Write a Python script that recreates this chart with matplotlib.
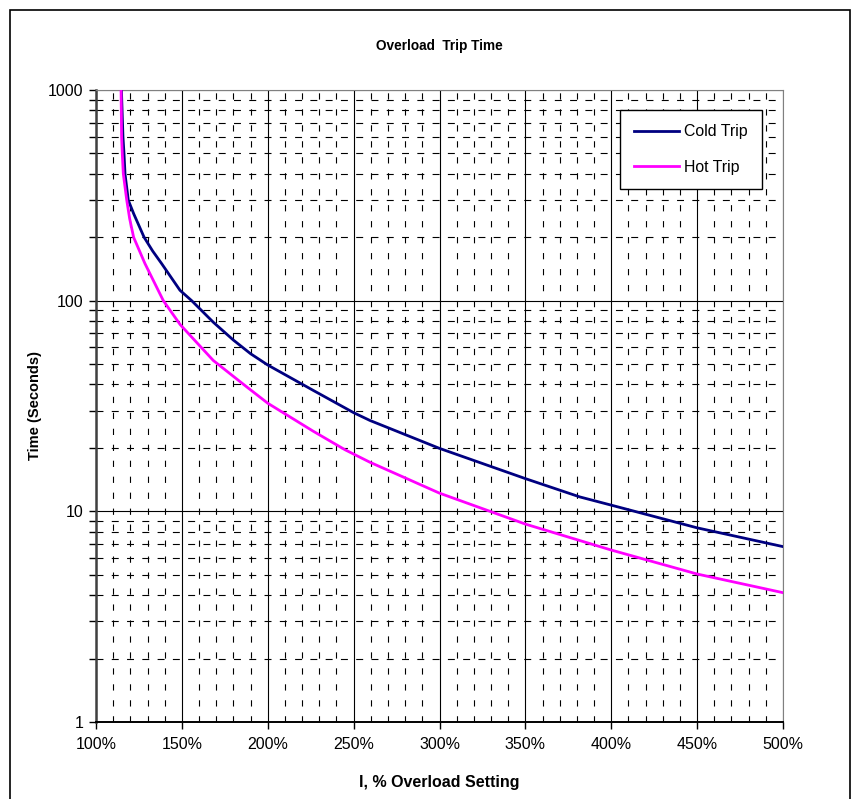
import matplotlib
matplotlib.use('Agg')
import matplotlib.pyplot as plt
import matplotlib.ticker as mticker
from matplotlib.patches import Rectangle

plt.rcParams['font.family'] = ['Liberation Sans', 'DejaVu Sans']
plt.rcParams['lines.scale_dashes'] = False

# valores (I en %, tiempo en segundos)
cold_x = [114.8, 115.7, 116.3, 116.9, 118.8, 122, 128, 133, 138.2, 148.9, 155.7,
          168.3, 180, 190, 200, 226.5, 250, 259.5, 300, 350, 381.8, 400, 450, 500]
cold_t = [1000, 600, 500, 400, 300, 258, 200, 172, 150, 112, 100,
          79, 65, 56, 49.5, 37.5, 29.4, 27, 19.9, 14.3, 11.7, 10.7, 8.35, 6.8]

hot_x = [114.6, 114.9, 115.3, 115.9, 117.9, 119.6, 121.9, 128.5, 139.2, 149, 168.3, 187.7,
         200, 226.5, 245, 259.5, 300, 350, 400, 450, 500]
hot_t = [1000, 600, 500, 400, 300, 245, 200, 150, 100, 77, 52, 39,
         32.6, 24, 19.6, 17.1, 12.2, 8.7, 6.55, 5.04, 4.11]

x_ticks = [100, 150, 200, 250, 300, 350, 400, 450, 500]
y_ticks = [1, 10, 100, 1000]

fig = plt.figure(figsize=(8.51, 7.99), dpi=100)
ax = fig.add_axes([96 / 851, 1 - 722 / 799, 687 / 851, 632 / 799])

# marco exterior
fig.patches.append(Rectangle((10 / 851, -0.02), 840 / 851, 1 - 10 / 799 + 0.02,
                             transform=fig.transFigure, fill=False,
                             edgecolor='black', linewidth=1.2))

ax.set_yscale('log')
ax.set_xlim(100, 500)
ax.set_ylim(1, 1000)

ax.plot(cold_x, cold_t, color='#000080', linewidth=2.0, label='Cold Trip', zorder=3)
ax.plot(hot_x, hot_t, color='#FF00FF', linewidth=2.0, label='Hot Trip', zorder=4)

ax.xaxis.set_major_locator(mticker.FixedLocator(x_ticks))
ax.xaxis.set_minor_locator(mticker.MultipleLocator(10))
ax.xaxis.set_major_formatter(mticker.FuncFormatter(lambda v, p: '{:d}%'.format(int(round(v)))))
ax.yaxis.set_major_locator(mticker.FixedLocator(y_ticks))
ax.yaxis.set_minor_locator(mticker.LogLocator(base=10, subs=range(2, 10)))
ax.yaxis.set_major_formatter(mticker.FuncFormatter(lambda v, p: '{:d}'.format(int(round(v)))))
ax.yaxis.set_minor_formatter(mticker.NullFormatter())

ax.grid(which='major', axis='both', color='black', linestyle='-', linewidth=0.8)
ax.grid(which='minor', axis='x', color='black', linestyle=(0, (4.5, 7)), linewidth=0.8)
ax.grid(which='minor', axis='y', color='black', linestyle=(0, (5, 6)), linewidth=0.8)
ax.set_axisbelow(True)

ax.tick_params(axis='x', which='major', direction='out', length=5, width=1, labelsize=11.5, pad=6)
ax.tick_params(axis='x', which='minor', length=0)
ax.tick_params(axis='y', which='both', direction='out', length=5, width=1, labelsize=11.5, pad=4)

ax.spines['top'].set_color('#808080')
ax.spines['right'].set_color('#808080')
ax.spines['left'].set_color('#404040')
ax.spines['left'].set_linewidth(1.8)
ax.spines['bottom'].set_linewidth(1.4)

ax.set_xlabel('I, % Overload Setting', fontsize=11.5, fontweight='bold', labelpad=16)
ax.set_ylabel('Time (Seconds)', fontsize=10.5, fontweight='bold', labelpad=4)
fig.text(0.516, 1 - 46 / 799, 'Overload  Trip Time', ha='center', va='center',
         fontsize=9.8, fontweight='bold')

leg = ax.legend(loc='upper right', bbox_to_anchor=(0.9694, 0.9684), borderaxespad=0,
                fancybox=False, edgecolor='black', framealpha=1, fontsize=11.4,
                handlelength=2.8, handletextpad=0.35, borderpad=0.9, labelspacing=1.3)
leg.get_frame().set_linewidth(1.0)
leg.set_zorder(10)

plt.savefig('out.png', dpi=100)
